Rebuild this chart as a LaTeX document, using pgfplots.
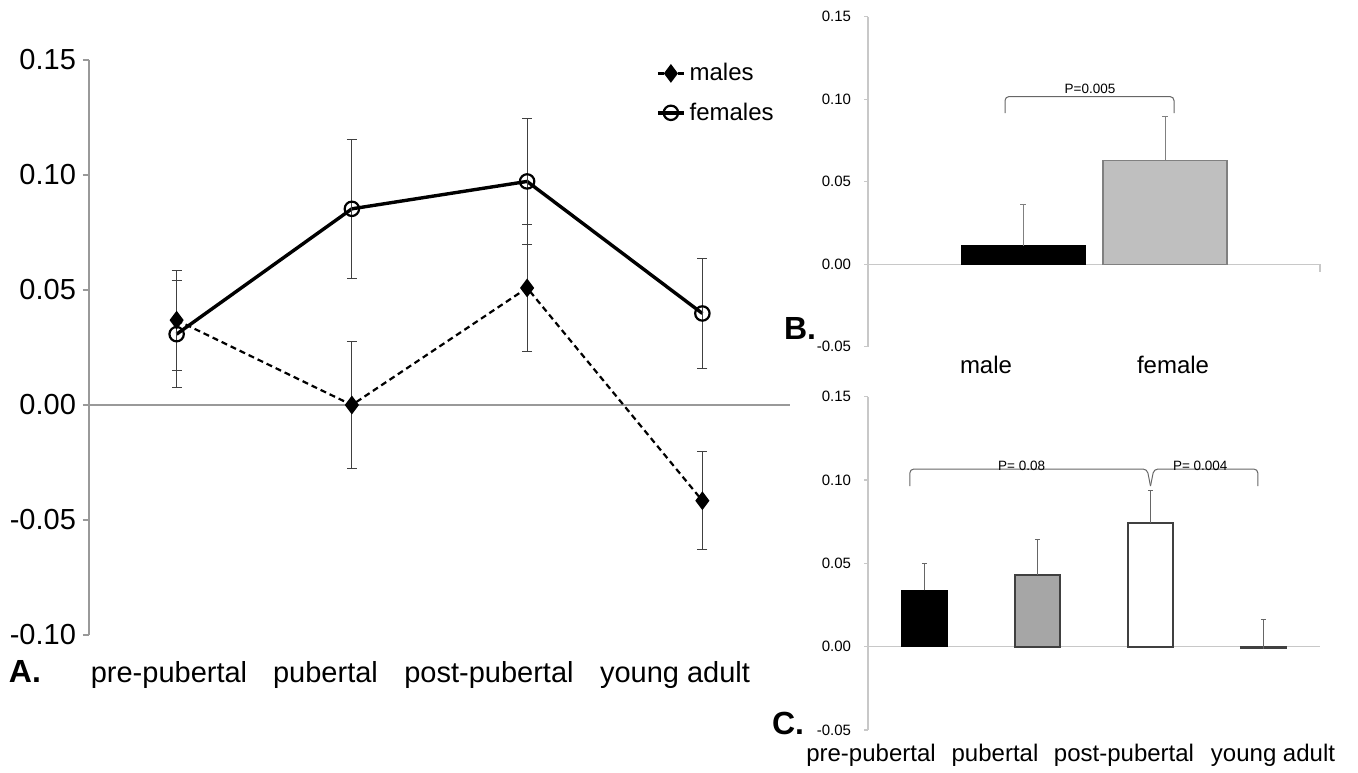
\documentclass[border=0pt]{standalone}
\usepackage{fontspec}
\setmainfont{Liberation Sans}
\usepackage{pgfplots}
\pgfplotsset{compat=1.18}

\definecolor{axisgrey}{HTML}{999999}
\definecolor{lightaxis}{HTML}{C8C8C8}
\definecolor{errgrey}{HTML}{404040}
\definecolor{femalebar}{HTML}{BFBFBF}
\definecolor{pubbar}{HTML}{A6A6A6}

\pgfplotsset{
  panel/.style={
    scale only axis,
    axis x line=none, axis y line=left,
    y axis line style={-},
    ytick={-0.1,-0.05,0,0.05,0.1,0.15},
    scaled y ticks=false,
    yticklabel style={/pgf/number format/fixed, /pgf/number format/fixed zerofill,
      /pgf/number format/precision=2, /pgf/number format/assume math mode=true},
    tick align=outside,
    clip=false,
  },
  cbar/.style={ybar, bar width=0.4, bar shift=0pt,
    error bars/y dir=plus, error bars/y explicit,
    error bars/error bar style={gray!80!black, line width=0.5pt},
    error bars/error mark options={rotate=90, mark size=1.3pt, gray!80!black, line width=0.5pt}},
}

\pgfplotstableread{
x y e
0 0.0369 0.0217
1 0.0000 0.0278
2 0.0509 0.0275
3 -0.0416 0.0213
}\males
\pgfplotstableread{
x y e
0 0.0308 0.0233
1 0.0853 0.0303
2 0.0972 0.0272
3 0.0398 0.0238
}\females

\begin{document}
\begin{tikzpicture}
\useasboundingbox (0,0) rectangle (679pt,386pt);

% ---------- A: line chart ----------
\begin{axis}[panel,
  at={(44.5pt,68.5pt)}, anchor=south west,
  width=350.5pt, height=287.5pt,
  xmin=-0.5, xmax=3.5, ymin=-0.1, ymax=0.15,
  y axis line style={axisgrey, line width=0.6pt},
  major tick length=3pt, ytick style={axisgrey, line width=0.6pt},
  yticklabel style={font=\fontsize{14.5}{16}\selectfont},
  legend style={draw=none, fill=none, at={(0.8,1.009)}, anchor=north west,
    font=\fontsize{12}{14}\selectfont, row sep=5.5pt},
  legend cell align=left,
  legend image code/.code={\draw[mark repeat=2, mark phase=2, #1]
    plot coordinates {(0pt,0pt) (6.5pt,0pt) (13pt,0pt)};},
]
\draw[axisgrey, line width=0.6pt] (axis cs:-0.5,0) -- (axis cs:3.5,0);
\addplot[black, line width=1.1pt, dash pattern=on 3pt off 2pt,
  mark=diamond*, mark size=3.8pt, mark options={solid, fill=black},
  error bars/.cd, y dir=both, y explicit,
  error bar style={errgrey, line width=0.45pt, solid},
  error mark options={rotate=90, mark size=2.5pt, errgrey, line width=0.45pt}]
  table[x=x, y=y, y error=e] {\males};
\addlegendentry{males}
\addplot[black, line width=1.7pt,
  mark=o, mark size=3.6pt, mark options={fill=white, line width=1.1pt},
  error bars/.cd, y dir=both, y explicit,
  error bar style={errgrey, line width=0.45pt},
  error mark options={rotate=90, mark size=2.5pt, errgrey, line width=0.45pt}]
  table[x=x, y=y, y error=e] {\females};
\addlegendentry{females}
\end{axis}

\node[font=\fontsize{16}{18}\bfseries\selectfont] at (12.5pt,50.5pt) {A.};
\begin{scope}[every node/.style={font=\fontsize{14.5}{16}\selectfont}]
\node at (84.5pt,48.5pt) {pre-pubertal};
\node at (162.75pt,48.5pt) {pubertal};
\node at (244.5pt,48.5pt) {post-pubertal};
\node at (337.5pt,48.5pt) {young adult};
\end{scope}

% ---------- B: male vs female ----------
\begin{axis}[panel,
  at={(434pt,212.65pt)}, anchor=south west,
  width=226pt, height=165pt,
  xmin=0, xmax=452, ymin=-0.05, ymax=0.15,
  y axis line style={lightaxis, line width=0.6pt},
  major tick length=2pt, ytick style={lightaxis, line width=0.6pt},
  yticklabel style={font=\fontsize{7.5}{9}\selectfont, xshift=-3pt},
]
\draw[lightaxis, line width=0.6pt] (axis cs:0,0) -- (axis cs:452,0) -- (axis cs:452,-0.005);
\addplot[ybar, bar width=124, bar shift=0pt, fill=black, draw=black,
  error bars/.cd, y dir=plus, y explicit,
  error bar style={gray, line width=0.5pt},
  error mark options={rotate=90, mark size=1.3pt, gray, line width=0.5pt}]
  coordinates {(155,0.0113) +- (0,0.0247)};
\addplot[ybar, bar width=124, bar shift=0pt, fill=femalebar, draw=gray, line width=0.6pt,
  error bars/.cd, y dir=plus, y explicit,
  error bar style={gray, line width=0.5pt},
  error mark options={rotate=90, mark size=1.3pt, gray, line width=0.5pt}]
  coordinates {(297,0.0630) +- (0,0.0263)};
\draw[gray!80!black, line width=0.5pt, rounded corners=2pt]
  (axis cs:137,0.0915) -- (axis cs:137,0.1016) -- (axis cs:306,0.1016) -- (axis cs:306,0.0915);
\node[font=\fontsize{6.75}{8}\selectfont, anchor=south, inner sep=1.5pt] at (axis cs:222,0.1016) {P=0.005};
\end{axis}

\node[font=\fontsize{16}{18}\bfseries\selectfont] at (400pt,222pt) {B.};
\node[font=\fontsize{12}{14}\selectfont] at (493pt,203.5pt) {male};
\node[font=\fontsize{12}{14}\selectfont] at (586.5pt,203.5pt) {female};

% ---------- C: by stage ----------
\begin{axis}[panel,
  at={(434pt,21pt)}, anchor=south west,
  width=226pt, height=166.65pt,
  xmin=-0.5, xmax=3.5, ymin=-0.05, ymax=0.15,
  y axis line style={lightaxis, line width=0.6pt},
  major tick length=2pt, ytick style={lightaxis, line width=0.6pt},
  yticklabel style={font=\fontsize{7.5}{9}\selectfont, xshift=-3pt},
]
\draw[lightaxis, line width=0.8pt] (axis cs:-0.5,0) -- (axis cs:3.5,0);
\addplot[cbar, fill=black, draw=black, line width=0.8pt]
  coordinates {(0,0.0338) +- (0,0.0160)};
\addplot[cbar, fill=pubbar, draw=errgrey, line width=1pt]
  coordinates {(1,0.0430) +- (0,0.0216)};
\addplot[cbar, fill=white, draw=errgrey, line width=1pt]
  coordinates {(2,0.0740) +- (0,0.0200)};
\addplot[cbar, fill=errgrey, draw=errgrey, line width=0.8pt]
  coordinates {(3,-0.0012) +- (0,0.0178)};
\draw[gray!80!black, line width=0.5pt, rounded corners=2pt]
  (axis cs:-0.13,0.0964) -- (axis cs:-0.13,0.1066) -- (axis cs:1.97,0.1066) -- (axis cs:2.0,0.0964);
\draw[gray!80!black, line width=0.5pt, rounded corners=2pt]
  (axis cs:2.0,0.0964) -- (axis cs:2.03,0.1066) -- (axis cs:2.95,0.1066) -- (axis cs:2.95,0.0964);
\node[font=\fontsize{6.75}{8}\selectfont, anchor=south, inner sep=1pt] at (axis cs:0.86,0.1040) {P= 0.08};
\node[font=\fontsize{6.75}{8}\selectfont, anchor=south, inner sep=1pt] at (axis cs:2.44,0.1040) {P= 0.004};
\end{axis}

\node[font=\fontsize{16}{18}\bfseries\selectfont] at (394pt,24.5pt) {C.};
\begin{scope}[every node/.style={font=\fontsize{12}{14}\selectfont}]
\node at (435.5pt,8.5pt) {pre-pubertal};
\node at (497.5pt,8.5pt) {pubertal};
\node at (562pt,8.5pt) {post-pubertal};
\node at (636.5pt,8.5pt) {young adult};
\end{scope}
\end{tikzpicture}
\end{document}
